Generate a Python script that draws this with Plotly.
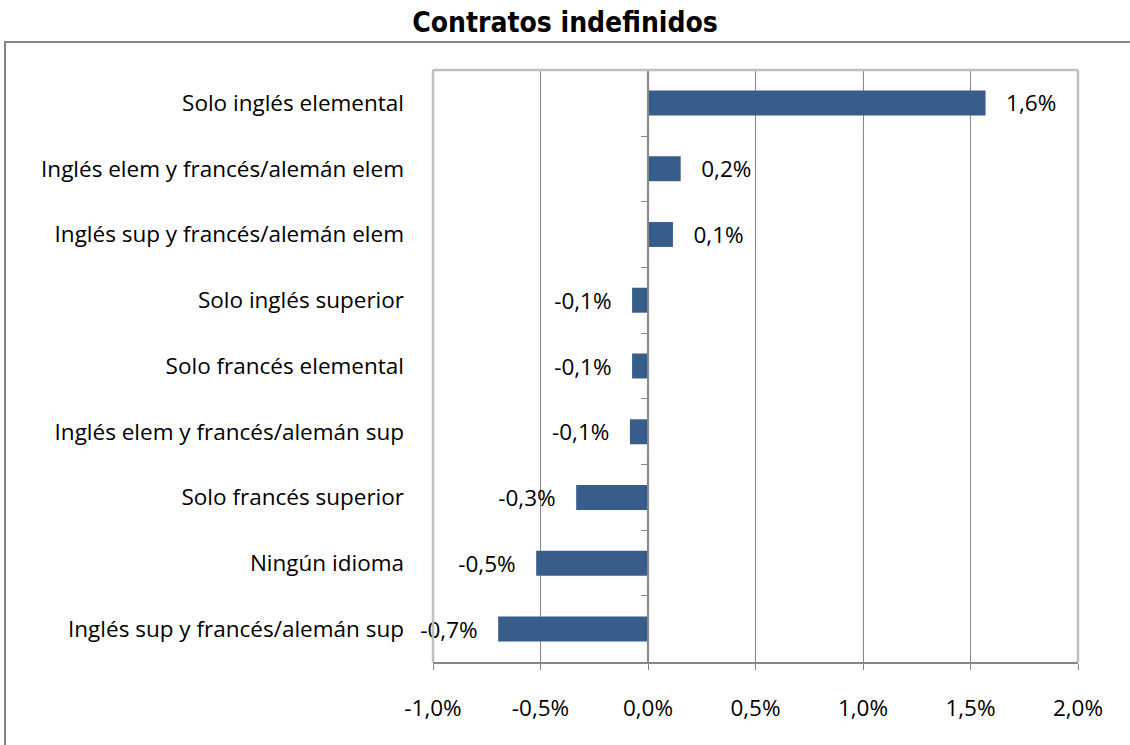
import plotly.graph_objects as go

categories = [
    "Solo inglés elemental",
    "Inglés elem y francés/alemán elem",
    "Inglés sup y francés/alemán elem",
    "Solo inglés superior",
    "Solo francés elemental",
    "Inglés elem y francés/alemán sup",
    "Solo francés superior",
    "Ningún idioma",
    "Inglés sup y francés/alemán sup",
]
values = [0.0157, 0.00152, 0.00116, -0.00074, -0.00074, -0.00084, -0.00334, -0.00520, -0.00697]
tick_vals = [-0.01, -0.005, 0.0, 0.005, 0.01, 0.015, 0.02]
tick_text = ["-1,0%", "-0,5%", "0,0%", "0,5%", "1,0%", "1,5%", "2,0%"]

def fmt(v):
    return ("%.1f%%" % (v * 100)).replace(".", ",")

PAD = "\u00a0\u00a0\u00a0"
labels = [PAD + fmt(v) if v >= 0 else fmt(v) + PAD for v in values]

FONT = "'Open Sans', Lato, sans-serif"
BAR = "#385D8A"
GRID = "#868686"
FRAME = "#BFBFBF"
FS = 22.5

fig = go.Figure()
fig.add_trace(go.Bar(
    x=values, y=categories, orientation="h",
    marker=dict(color=BAR, line=dict(width=0)),
    text=labels, textposition="outside", cliponaxis=False,
    constraintext="none",
    textfont=dict(family=FONT, size=FS, color="#000000"),
    hoverinfo="skip",
))
# helper trace for the category axis crossing at zero
fig.add_trace(go.Scatter(
    x=[0] * len(categories), y=categories, yaxis="y2", mode="markers",
    marker=dict(opacity=0), hoverinfo="skip", showlegend=False,
))

fig.update_layout(
    width=1130, height=745,
    margin=dict(l=433, r=52, t=70, b=83),
    paper_bgcolor="white", plot_bgcolor="white",
    showlegend=False,
    bargap=0.62,
    title=dict(
        text="<b>Contratos indefinidos</b>",
        x=0.5, xref="container", xanchor="center",
        y=1 - 22 / 745, yref="container", yanchor="middle",
        font=dict(family="'Liberation Sans Narrow', 'Arial Narrow', 'DejaVu Sans Condensed', sans-serif",
                  size=28, color="#000000"),
    ),
    font=dict(family=FONT, size=FS, color="#000000"),
    xaxis=dict(
        range=[-0.01, 0.02], tickvals=tick_vals, ticktext=tick_text,
        showgrid=True, gridcolor=GRID, gridwidth=1.3,
        zeroline=False,
        showline=True, linecolor=GRID, linewidth=2,
        ticks="outside", ticklen=6, tickcolor=GRID, tickwidth=1.3,
        ticklabelstandoff=19,
        tickfont=dict(family=FONT, size=FS, color="#000000"),
        fixedrange=True,
    ),
    yaxis=dict(
        type="category", categoryorder="array", categoryarray=categories,
        autorange="reversed", showgrid=False, zeroline=False, showline=False,
        ticks="", ticklabelstandoff=28,
        tickfont=dict(family=FONT, size=FS, color="#000000"),
    ),
    yaxis2=dict(
        type="category", categoryorder="array", categoryarray=categories,
        autorange="reversed", overlaying="y", anchor="free", position=1 / 3,
        side="left", showticklabels=False, showgrid=False, zeroline=False,
        showline=True, linecolor=GRID, linewidth=2,
        ticks="outside", tickson="boundaries", ticklen=6, tickcolor=GRID, tickwidth=1.3,
    ),
)

# plot-area frame (left, top, right) in light grey
for x0, y0, x1, y1 in [(0, 0, 0, 1), (0, 1, 1, 1), (1, 0, 1, 1)]:
    fig.add_shape(type="line", xref="x domain", yref="y domain",
                  x0=x0, y0=y0, x1=x1, y1=y1,
                  line=dict(color=FRAME, width=2.5), layer="above")

# outer chart border
fig.add_shape(type="rect", xref="paper", yref="paper",
              x0=(5 - 433) / 645, y0=-0.3, x1=1.2, y1=(662 - 42) / 592,
              line=dict(color="#868686", width=2), layer="below")

fig.write_html("out.html",
               config={"displayModeBar": False},
               post_script="document.body.style.margin='0';document.body.style.overflow='hidden';")
